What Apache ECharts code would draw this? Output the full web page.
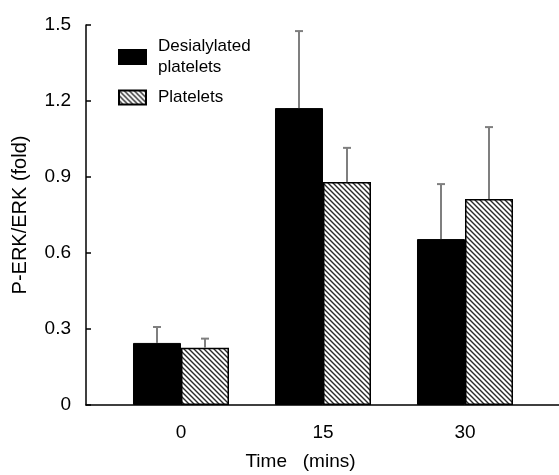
<!DOCTYPE html>
<html><head><meta charset="utf-8">
<script src="https://cdn.jsdelivr.net/npm/echarts@6/dist/echarts.min.js"></script>
<style>html,body{margin:0;padding:0;background:#fff}#c{width:559px;height:475px}</style>
</head><body><div id="c"></div>
<script>
const categories = ['0', '15', '30'];
const seriesNames = ['Desialylated\nplatelets', 'Platelets'];
const desialylated = [0.245, 1.172, 0.655];
const desialylatedErrTop = [0.308, 1.476, 0.872];
const platelets = [0.226, 0.88, 0.813];
const plateletsErrTop = [0.262, 1.015, 1.097];
const yTicks = [0, 0.3, 0.6, 0.9, 1.2, 1.5];

const FONT = '"Liberation Sans", Arial, sans-serif';
const BAR_W = 48;

// hatch pattern
const pc = document.createElement('canvas');
pc.width = 5; pc.height = 5;
const g = pc.getContext('2d');
g.fillStyle = '#fff'; g.fillRect(0, 0, 5, 5);
g.strokeStyle = '#2a2a2a'; g.lineWidth = 1.4;
g.beginPath();
g.moveTo(-1, -1); g.lineTo(6, 6);
g.moveTo(-1, 4); g.lineTo(1, 6);
g.moveTo(4, -1); g.lineTo(6, 1);
g.stroke();
const hatch = { image: pc, repeat: 'repeat' };

const chart = echarts.init(document.getElementById('c'), null, { renderer: 'canvas' });

function errData(tops, vals, side) {
  return tops.map((t, i) => [i, vals[i], t, side]);
}

const errRender = function (params, api) {
  const x = api.value(0), v = api.value(1), t = api.value(2), side = api.value(3);
  const p0 = api.coord([x, v]);
  const p1 = api.coord([x, t]);
  const cx = p0[0] + side * BAR_W / 2;
  const cw = 4;
  return {
    type: 'group',
    children: [
      { type: 'line', shape: { x1: cx, y1: p0[1], x2: cx, y2: p1[1] }, style: { stroke: '#7f7f7f', lineWidth: 2 } },
      { type: 'line', shape: { x1: cx - cw, y1: p1[1], x2: cx + cw, y2: p1[1] }, style: { stroke: '#7f7f7f', lineWidth: 2 } }
    ]
  };
};

const legendText = { fontFamily: FONT, fontSize: 17, color: '#000', lineHeight: 21, padding: [0, 0, 0, 7] };

chart.setOption({
  animation: false,
  backgroundColor: '#fff',
  grid: { left: 86, right: 0, top: 25, bottom: 70, outerBoundsMode: 'none', containLabel: false },
  legend: [{
    data: [seriesNames[0]], orient: 'vertical', left: 113, top: 31,
    icon: 'rect', itemWidth: 27, itemHeight: 14,
    textStyle: legendText, selectedMode: false
  }, {
    data: [seriesNames[1]], orient: 'vertical', left: 113, top: 82,
    icon: 'rect', itemWidth: 27, itemHeight: 14,
    textStyle: legendText, selectedMode: false
  }],
  xAxis: {
    type: 'value', min: -0.669, max: 2.662,
    name: 'Time   (mins)', nameLocation: 'middle', nameGap: 47,
    nameTextStyle: { fontFamily: FONT, fontSize: 19, color: '#000', padding: [0, 44, 0, 0] },
    axisLine: { show: true, onZero: false, lineStyle: { color: '#000', width: 1.5 } },
    axisTick: { show: false },
    splitLine: { show: false },
    axisLabel: {
      customValues: [0, 1, 2],
      formatter: v => categories[Math.round(v)],
      fontFamily: FONT, fontSize: 19, color: '#000', margin: 18
    }
  },
  yAxis: {
    type: 'value', min: 0, max: 1.5, interval: 0.3,
    name: 'P-ERK/ERK (fold)', nameLocation: 'middle', nameGap: 56,
    nameTextStyle: { fontFamily: FONT, fontSize: 20, color: '#000' },
    axisLine: { show: true, onZero: false, lineStyle: { color: '#000', width: 1.5 } },
    axisTick: { show: true, inside: true, length: 5, lineStyle: { color: '#000', width: 1.5 } },
    splitLine: { show: false },
    axisLabel: {
      customValues: yTicks,
      formatter: v => (v === 0 ? '0' : v.toFixed(1)),
      fontFamily: FONT, fontSize: 19, color: '#000', margin: 15
    }
  },
  series: [{
    name: seriesNames[0], type: 'bar', barWidth: BAR_W, barGap: '0%',
    data: desialylated.map((v, i) => [i, v]),
    itemStyle: { color: '#000', borderColor: '#000', borderWidth: 1 }
  }, {
    name: seriesNames[1], type: 'bar', barWidth: BAR_W, barGap: '0%',
    data: platelets.map((v, i) => [i, v]),
    itemStyle: { color: hatch, borderColor: '#000', borderWidth: 1.5 }
  }, {
    type: 'custom', renderItem: errRender, z: 5,
    encode: { x: 0, y: 1 },
    data: errData(desialylatedErrTop, desialylated, -1)
  }, {
    type: 'custom', renderItem: errRender, z: 5,
    encode: { x: 0, y: 1 },
    data: errData(plateletsErrTop, platelets, 1)
  }]
});
</script></body></html>
